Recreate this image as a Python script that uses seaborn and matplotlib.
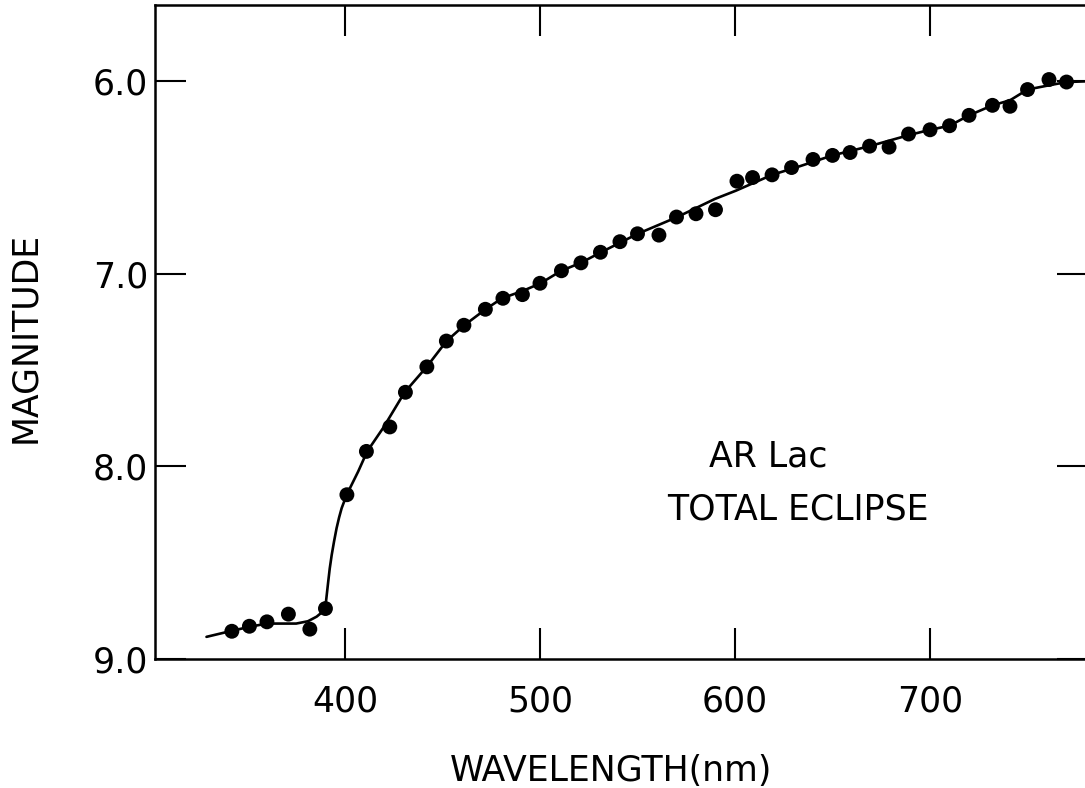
import matplotlib
matplotlib.use("Agg")
import matplotlib.pyplot as plt
import seaborn as sns
import pandas as pd

wl_pts = [342, 351, 360, 371, 382, 390, 401, 411, 423, 431, 442, 452, 461, 472, 481, 491,
          500, 511, 521, 531, 541, 550, 561, 570, 580, 590, 601, 609, 619, 629, 640, 650,
          659, 669, 679, 689, 700, 710, 720, 732, 741, 750, 761, 770]
mag_pts = [8.856, 8.83, 8.807, 8.767, 8.845, 8.738, 8.147, 7.922, 7.795, 7.615, 7.483, 7.349,
           7.267, 7.184, 7.127, 7.108, 7.049, 6.984, 6.943, 6.888, 6.833, 6.792, 6.799, 6.705,
           6.688, 6.667, 6.519, 6.50, 6.486, 6.448, 6.406, 6.385, 6.37, 6.337, 6.342, 6.274,
           6.252, 6.231, 6.177, 6.125, 6.13, 6.043, 5.991, 6.004]

# hand-drawn fit curve
curve_wl = [329, 341, 351, 360, 367, 375, 381, 385.5, 388.5, 390.3, 391.4, 392.2, 393.2,
            394.4, 395.7, 397, 398.3, 400.9, 406.8, 411.4, 419.6, 430.6, 441.9, 452.1, 461.2,
            472.1, 480.5, 491.1, 500.3, 510.9, 520.9, 531.1, 550.1, 570.4, 589.7, 600.5, 619,
            633.3, 650, 669, 689, 700, 710, 720, 732, 741, 750, 761, 770, 781]
curve_mag = [8.885, 8.856, 8.833, 8.816, 8.816, 8.816, 8.804, 8.78, 8.755, 8.70, 8.6, 8.53,
             8.46, 8.39, 8.321, 8.265, 8.217, 8.147, 8.026, 7.922, 7.80, 7.615, 7.483, 7.349,
             7.267, 7.184, 7.127, 7.089, 7.049, 6.984, 6.943, 6.889, 6.792, 6.705, 6.611,
             6.568, 6.486, 6.441, 6.385, 6.337, 6.28, 6.252, 6.231, 6.177, 6.125, 6.099, 6.043,
             6.021, 6.004, 6.0]

x_ticks = [400, 500, 600, 700]
y_ticks = [6.0, 7.0, 8.0, 9.0]

pts = pd.DataFrame({"wl": wl_pts, "mag": mag_pts})
curve = pd.DataFrame({"wl": curve_wl, "mag": curve_mag})

sns.set_style("ticks")
plt.rcParams["font.family"] = ["DejaVu Sans"]
plt.rcParams["text.color"] = "black"
plt.rcParams["axes.labelcolor"] = "black"
plt.rcParams["xtick.color"] = "black"
plt.rcParams["ytick.color"] = "black"
plt.rcParams["axes.edgecolor"] = "black"

fig = plt.figure(figsize=(10.85, 7.88), dpi=100)
ax = fig.add_axes([155 / 1085, 1 - 659 / 788, 933 / 1085, 654 / 788])

sns.lineplot(data=curve, x="wl", y="mag", ax=ax, color="black", lw=1.9,
             estimator=None, sort=False)
sns.scatterplot(data=pts, x="wl", y="mag", ax=ax, color="black", s=115,
                edgecolor="none", zorder=3)

ax.set_xlim(302.6, 781.0)
ax.set_ylim(9.0, 5.604)

ax.set_xticks(x_ticks)
ax.set_yticks(y_ticks)
ax.set_yticklabels([f"{v:.1f}" for v in y_ticks])
ax.tick_params(axis="both", direction="in", length=22, width=1.5, labelsize=25,
               top=True, right=True, colors="black")
ax.tick_params(axis="x", pad=18)
ax.tick_params(axis="y", pad=5)
for sp in ax.spines.values():
    sp.set_linewidth(1.8)
    sp.set_color("black")
    sp.set_visible(True)

ax.set_xlabel("WAVELENGTH(nm)", fontsize=25, va="center", color="black")
ax.xaxis.set_label_coords(0.4887, -0.171)
ax.set_ylabel("MAGNITUDE", fontsize=25, va="center", color="black")
ax.yaxis.set_label_coords(-0.1393, 0.4924)

ax.text(616.9, 7.948, "AR Lac", fontsize=25, ha="center", va="center", color="black")
ax.text(632.3, 8.224, "TOTAL ECLIPSE", fontsize=25, ha="center", va="center", color="black")

fig.savefig("out.png", dpi=100)
